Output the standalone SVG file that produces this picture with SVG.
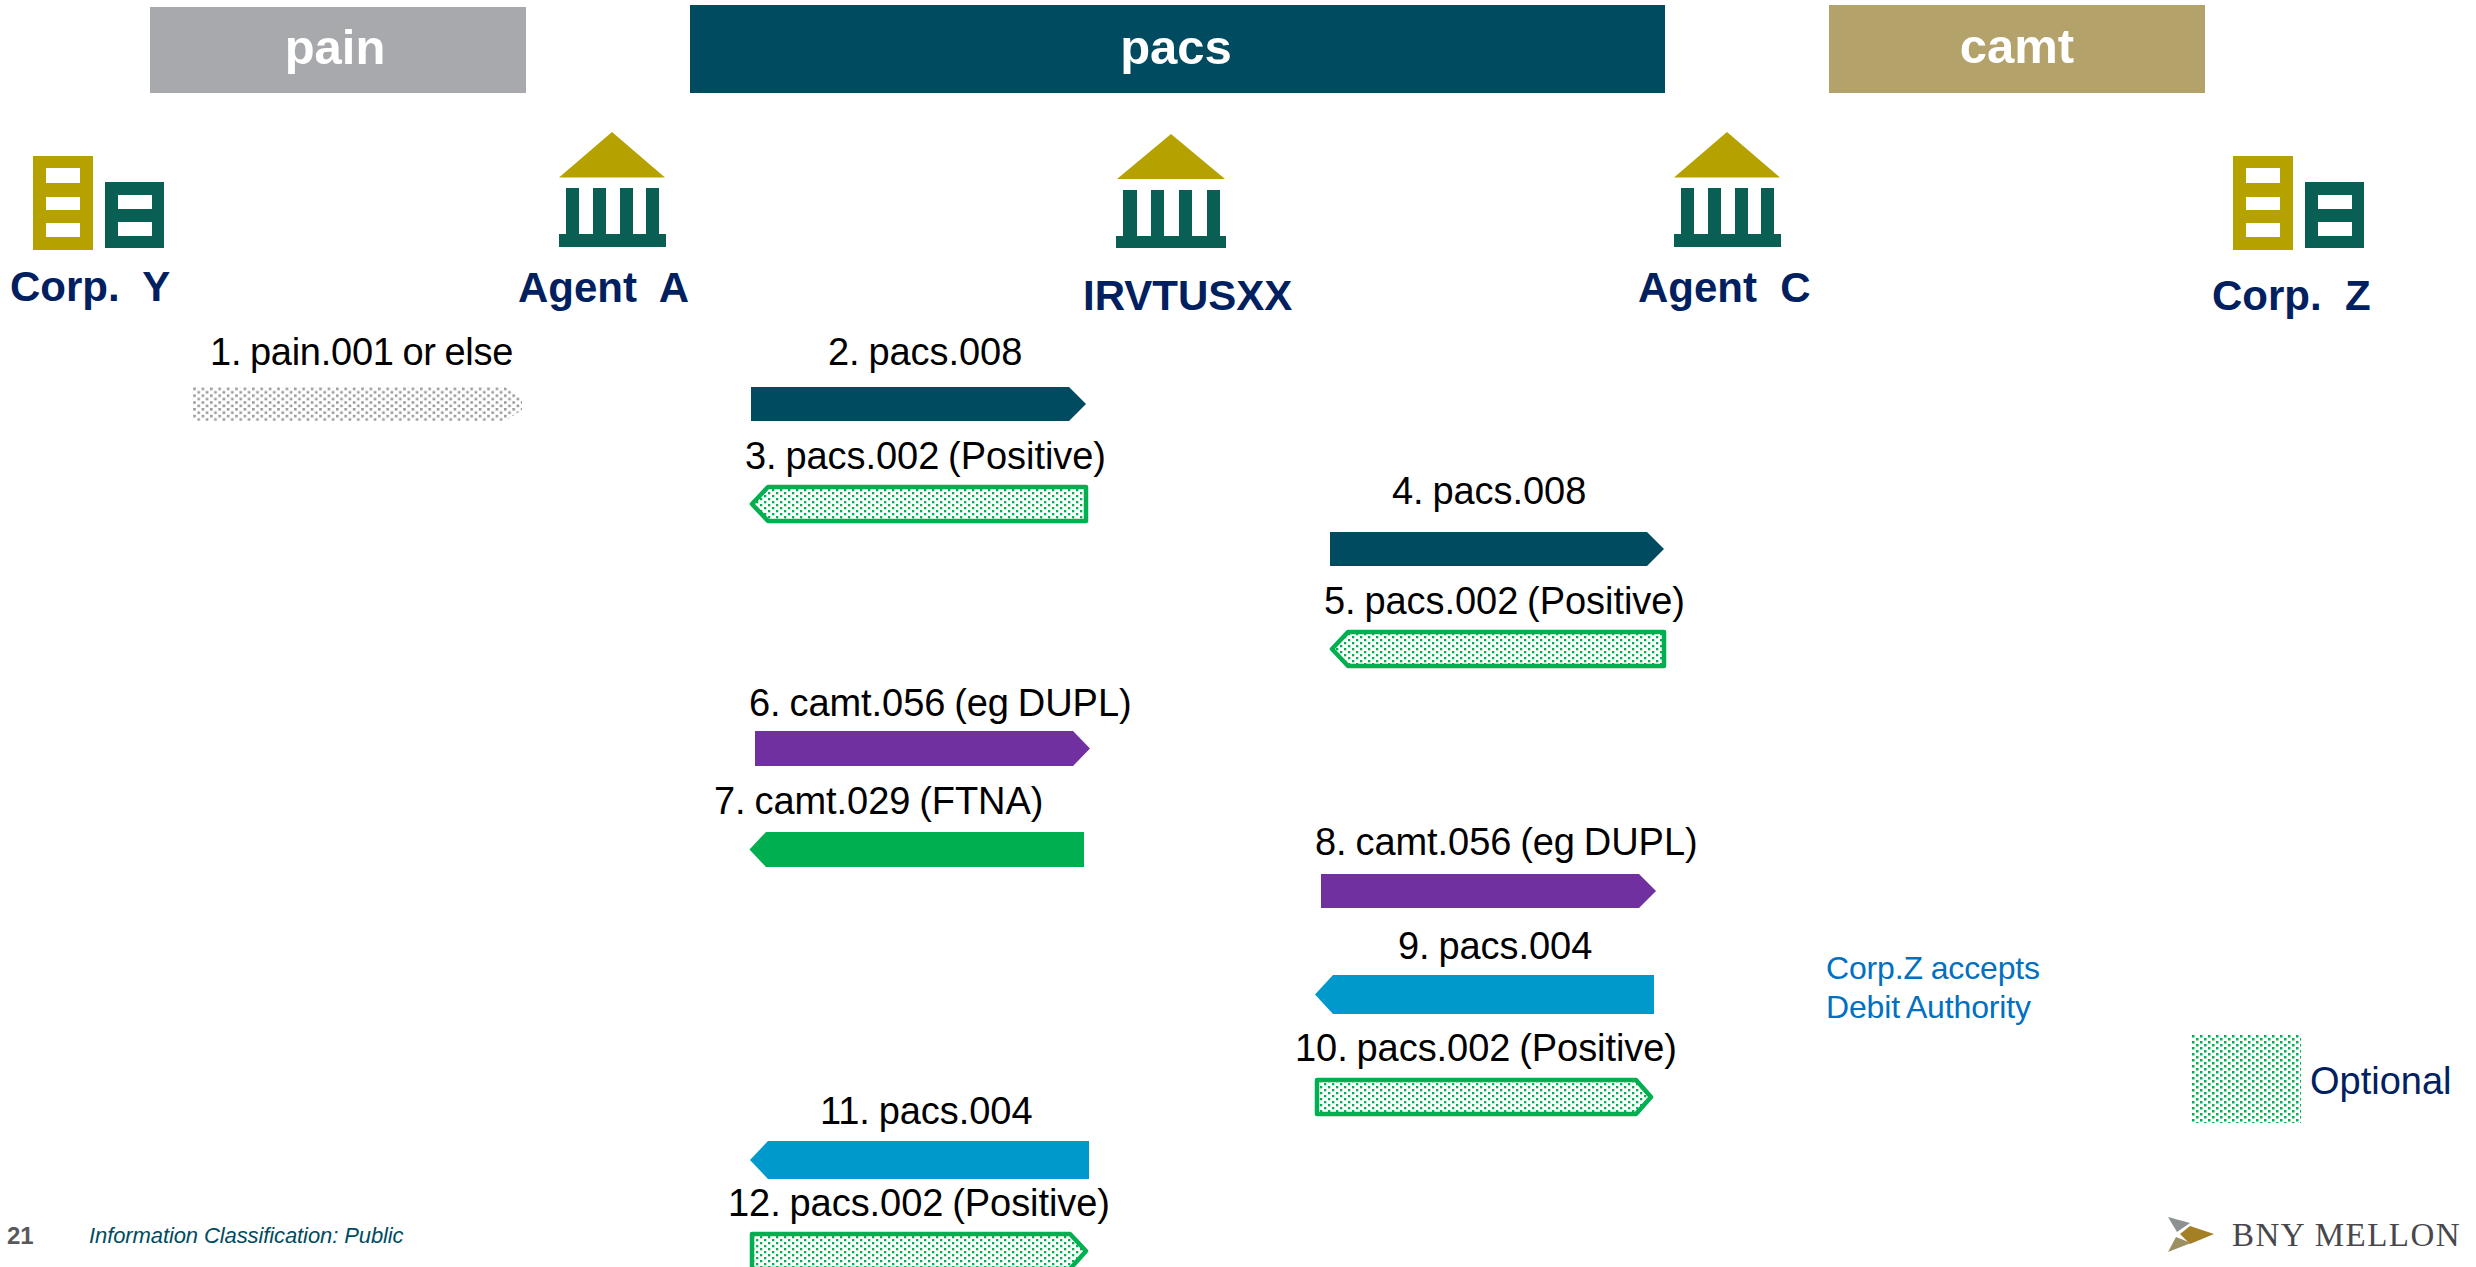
<svg xmlns="http://www.w3.org/2000/svg" width="2476" height="1267" viewBox="0 0 2476 1267">
<style>
text{font-family:"Liberation Sans",Arial,sans-serif;white-space:pre}
.hd{font-size:49px;font-weight:700;fill:#fff;text-anchor:middle}
.nm{font-size:42px;font-weight:700;fill:#002060}
.lb{font-size:38px;fill:#000;word-spacing:-1.600px;letter-spacing:-.06px}
.note{font-size:32px;fill:#0070C0;word-spacing:-1px;letter-spacing:-.15px}
.teal{fill:#004B60}.pur{fill:#7030A0}.grn{fill:#00B050}.blu{fill:#0099CC}
.opt{fill:url(#dotG);stroke:#00B050;stroke-width:4.500;stroke-linejoin:round}
.gold{fill:#B5A200}.dk{fill:#0A5F55}
</style>
<defs>
<pattern id="dotG" width="8" height="6" patternUnits="userSpaceOnUse"><rect width="2.300" height="2.300" fill="#00B050"/><rect x="4" y="3" width="2.300" height="2.300" fill="#00B050"/></pattern>
<pattern id="dotL" x="2192" y="1035" width="8" height="6" patternUnits="userSpaceOnUse"><rect width="2.500" height="2.500" fill="#00B050"/><rect x="4" y="3" width="2.500" height="2.500" fill="#00B050"/></pattern>
<pattern id="dotK" width="8.400" height="6.800" patternUnits="userSpaceOnUse"><rect width="2.600" height="2.600" fill="#9A9A9C"/><rect x="4.200" y="3.400" width="2.600" height="2.600" fill="#9A9A9C"/></pattern>
<g id="bank">
<polygon class="gold" points="612,132 559,177.500 665,177.500"/>
<path class="dk" d="M566 188h13v47h-13zM593 188h13v47h-13zM620 188h13v47h-13zM646 188h13v47h-13zM559 234h107v13H559z"/>
</g>
<g id="bank2">
<polygon class="gold" points="1171,134 1117,179 1225,179"/>
<path class="dk" d="M1123 190h14v47h-14zM1151 190h13v47h-13zM1179 190h13v47h-13zM1207 190h13v47h-13zM1116 236h110v12H1116z"/>
</g>
<g id="corp">
<path class="gold" fill-rule="evenodd" d="M33 156h60v94H33zM46 168v15h34v-15zM46 197v13h34v-13zM46 223v14h34v-14z"/>
<path class="dk" fill-rule="evenodd" d="M105 182h59v66h-59zM118 195v14h34v-14zM118 222v14h34v-14z"/>
</g>
</defs>
<rect width="2476" height="1267" fill="#fff"/>
<g id="banner-pain"><rect x="150" y="7" width="376" height="86" fill="#A7A9AC"/><text class="hd" x="335" y="64">pain</text></g>
<g id="banner-pacs"><rect x="690" y="5" width="975" height="88" fill="#004B60"/><text class="hd" x="1176" y="64">pacs</text></g>
<g id="banner-camt"><rect x="1829" y="5" width="376" height="88" fill="#B3A269"/><text class="hd" x="2017" y="63">camt</text></g>
<g id="corp-y"><use href="#corp"/><text class="nm" x="10" y="301">Corp.  Y</text></g>
<g id="agent-a"><use href="#bank"/><text class="nm" x="518" y="302">Agent  A</text></g>
<g id="irvtusxx"><use href="#bank2"/><text class="nm" x="1083" y="310">IRVTUSXX</text></g>
<g id="agent-c"><use href="#bank" x="1115"/><text class="nm" x="1638" y="302">Agent  C</text></g>
<g id="corp-z"><use href="#corp" x="2200"/><text class="nm" x="2212" y="310">Corp.  Z</text></g>
<g id="connectors">
<path fill="url(#dotK)" d="M192 387H505L522 398V410L505 421H192Z"/>
<polygon class="teal" points="751,387 1069,387 1086,404 1069,421 751,421"/>
<polygon class="opt" points="1086,487 768,487 752,504 768,521 1086,521"/>
<polygon class="teal" points="1330,532 1647,532 1664,549 1647,566 1330,566"/>
<polygon class="opt" points="1664,632 1348,632 1332,649 1348,666 1664,666"/>
<polygon class="pur" points="755,731 1073,731 1090,748.500 1073,766 755,766"/>
<polygon class="grn" points="1084,832 766,832 749.500,849.500 766,867 1084,867"/>
<polygon class="pur" points="1321,874 1639,874 1656,891 1639,908 1321,908"/>
<polygon class="blu" points="1654,975 1333,975 1315,994.500 1333,1014 1654,1014"/>
<polygon class="opt" points="1317,1080 1636,1080 1651,1097 1636,1114 1317,1114"/>
<polygon class="blu" points="1089,1141 768,1141 750,1160 768,1179 1089,1179"/>
<polygon class="opt" points="752,1234 1070,1234 1086,1251 1070,1269 752,1269"/>
</g>
<g id="labels">
<text class="lb" x="210" y="365" style="letter-spacing:-.25px">1. pain.001 or else</text>
<text class="lb" x="828" y="365">2. pacs.008</text>
<text class="lb" x="745" y="469">3. pacs.002 (Positive)</text>
<text class="lb" x="1392" y="504">4. pacs.008</text>
<text class="lb" x="1324" y="614">5. pacs.002 (Positive)</text>
<text class="lb" x="749" y="716">6. camt.056 (eg DUPL)</text>
<text class="lb" x="714" y="814">7. camt.029 (FTNA)</text>
<text class="lb" x="1315" y="855">8. camt.056 (eg DUPL)</text>
<text class="lb" x="1398" y="959">9. pacs.004</text>
<text class="lb" x="1295" y="1061">10. pacs.002 (Positive)</text>
<text class="lb" x="820" y="1124">11. pacs.004</text>
<text class="lb" x="728" y="1216">12. pacs.002 (Positive)</text>
</g>
<g id="note"><text class="note" x="1826" y="979">Corp.Z accepts</text><text class="note" x="1826" y="1018">Debit Authority</text></g>
<g id="legend"><rect x="2192" y="1035" width="109" height="88" fill="url(#dotL)"/><text x="2310" y="1094" font-size="38" fill="#002060">Optional</text></g>
<g id="footer">
<text x="7" y="1244" font-size="24" font-weight="700" fill="#58595B">21</text>
<text x="89" y="1243" font-size="22" font-style="italic" fill="#004B60" letter-spacing="-.1">Information Classification: Public</text>
<polygon points="2168,1217 2190,1223 2177,1232" fill="#8C9191"/>
<polygon points="2180,1234 2190,1226 2214,1234 2190,1244" fill="#A57F24"/>
<polygon points="2168,1252 2176,1237 2191,1243" fill="#9C8F62"/>
<text x="2232" y="1246" font-size="33" letter-spacing="1.500" style="font-family:'Liberation Serif',serif" fill="#48484C">BNY MELLON</text>
</g>
</svg>
